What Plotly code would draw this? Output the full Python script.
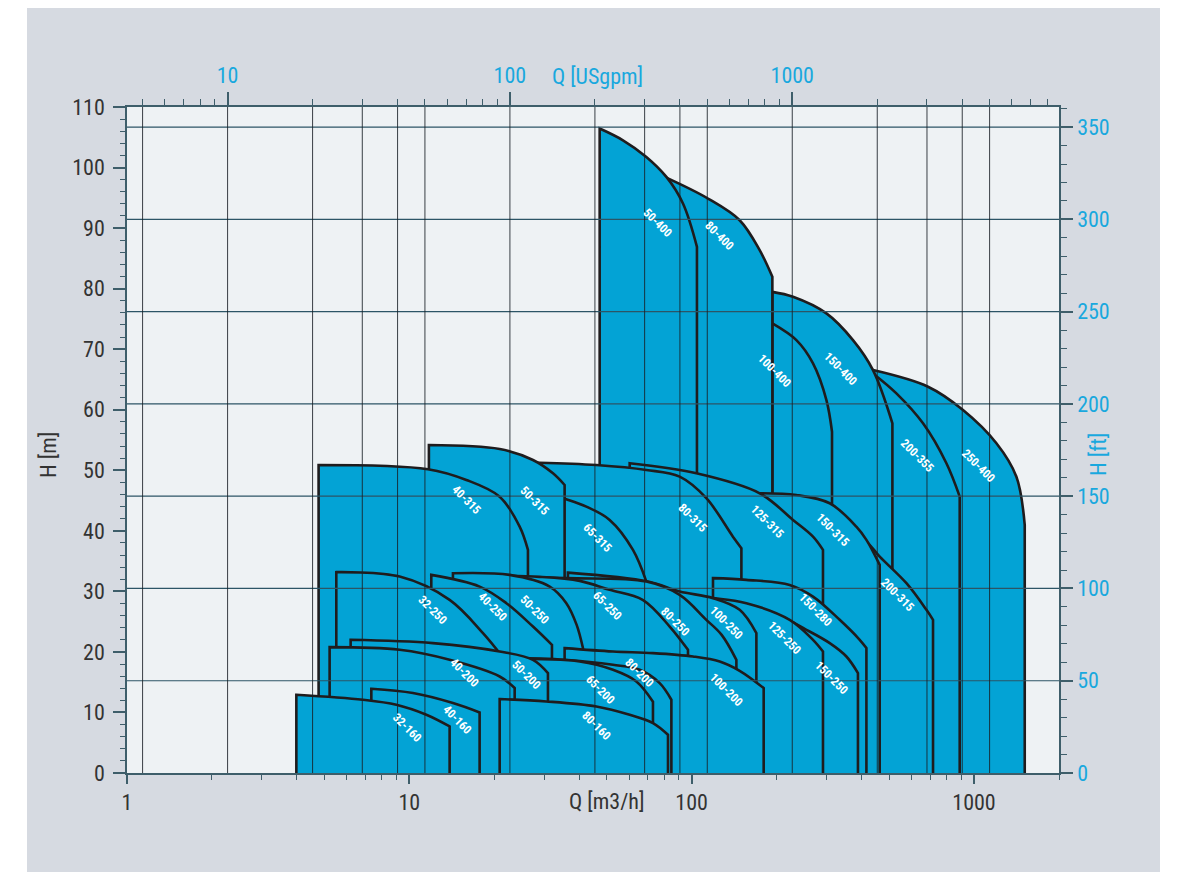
import numpy as np
import plotly.graph_objects as go

GPM_PER_M3H = 4.402868
M_PER_FT = 0.3048

# ---------------- pump envelopes: (Q [m3/h], H [m]) along each top curve ----------------
Q_250_400 = [438.7, 687.3, 914.2, 1200.6, 1413.0, 1512.5]
H_250_400 = [66.55, 63.8, 59.95, 54.46, 48.94, 40.97]
Q_200_355 = [438.7, 531.0, 659.8, 798.4, 889.9]
H_200_355 = [66.0, 62.71, 57.76, 51.16, 45.64]
Q_150_400 = [193.1, 228.5, 300.1, 372.7, 438.7, 514.0]
H_150_400 = [79.47, 78.65, 75.91, 71.50, 66.55, 57.76]
Q_100_400 = [193.1, 234.9, 269.0, 300.1, 314.1]
H_100_400 = [74.26, 71.50, 67.66, 61.60, 56.37]
Q_80_400 = [80.25, 114.2, 147.9, 174.1, 193.1]
H_80_400 = [98.45, 94.88, 91.30, 86.35, 81.95]
Q_50_400 = [47.22, 57.10, 69.10, 81.37, 93.15, 104.4]
H_50_400 = [106.44, 104.5, 101.75, 98.45, 94.06, 86.9]

Q_200_315 = [284.0, 410.1, 463.4, 576.3, 678.4, 715.9]
H_200_315 = [43.12, 38.5, 35.74, 31.35, 26.95, 25.30]
Q_150_315 = [174.1, 234.9, 308.3, 383.1, 415.8, 463.4]
H_150_315 = [46.2, 45.92, 44.55, 40.69, 38.5, 34.37]
Q_125_315 = [60.31, 103.9, 174.1, 228.5, 269.0, 291.8]
H_125_315 = [51.16, 49.50, 46.20, 41.80, 39.04, 36.85]
Q_80_315 = [22.66, 28.94, 45.96, 69.10, 90.67, 112.7, 140.0, 150.0]
H_80_315 = [51.29, 51.25, 50.87, 50.05, 48.94, 45.38, 39.04, 37.13]
Q_65_315 = [27.80, 35.98, 42.36, 51.23, 61.95, 69.10]
H_65_315 = [46.75, 45.21, 43.99, 41.80, 36.85, 31.62]
Q_50_315 = [11.73, 20.89, 27.41, 32.27, 35.48]
H_50_315 = [54.17, 53.51, 51.70, 49.50, 47.57]
Q_40_315 = [4.771, 11.64, 15.92, 20.89, 24.59, 26.31]
H_40_315 = [50.87, 50.17, 48.40, 45.64, 40.69, 36.85]

Q_150_280 = [119.0, 156.2, 222.4, 269.0, 334.4, 393.7, 415.8]
H_150_280 = [32.18, 31.90, 31.07, 29.14, 25.30, 22.0, 20.63]

Q_150_250 = [130.9, 205.0, 254.9, 308.3, 353.2, 388.1]
H_150_250 = [27.61, 25.84, 23.65, 21.45, 19.24, 16.50]
Q_125_250 = [70.99, 119.0, 156.2, 222.4, 269.0, 291.8]
H_125_250 = [29.59, 28.88, 28.05, 25.30, 22.0, 20.07]
Q_100_250 = [36.45, 70.01, 90.67, 119.0, 147.9, 169.5]
H_100_250 = [33.10, 31.62, 29.97, 28.88, 26.95, 23.10]
Q_80_250 = [16.35, 35.98, 69.10, 90.67, 112.7, 127.7, 144.0]
H_80_250 = [32.48, 32.18, 31.62, 29.42, 25.30, 22.82, 18.70]
Q_65_250 = [16.35, 28.94, 40.12, 51.23, 67.05, 83.58, 97.03]
H_65_250 = [32.64, 32.39, 31.73, 30.25, 28.60, 24.19, 20.35]
Q_50_250 = [14.27, 22.66, 31.41, 35.98, 39.14, 41.20]
H_50_250 = [33.0, 32.72, 30.79, 28.05, 24.47, 20.63]
Q_40_250 = [11.96, 17.74, 22.06, 27.41, 32.00]
H_40_250 = [32.72, 30.79, 28.05, 24.19, 21.17]
Q_32_250 = [5.512, 9.240, 13.89, 18.23, 21.23]
H_32_250 = [33.17, 32.44, 28.60, 23.10, 19.36]

Q_100_200 = [35.48, 52.63, 72.93, 101.1, 125.7, 147.9, 179.9]
H_100_200 = [20.63, 20.07, 19.80, 19.24, 18.42, 16.88, 14.03]
Q_80_200 = [21.76, 35.48, 52.63, 65.42, 77.04, 84.75]
H_80_200 = [19.03, 18.70, 17.87, 17.05, 14.85, 12.10]
Q_65_200 = [21.76, 40.12, 52.63, 63.68, 72.93]
H_65_200 = [18.86, 18.42, 17.05, 15.12, 11.77]
Q_50_200 = [6.196, 12.12, 20.89, 27.41, 30.97]
H_50_200 = [22.0, 21.45, 20.07, 18.70, 16.50]
Q_40_200 = [5.220, 9.240, 13.89, 20.89, 23.61]
H_40_200 = [20.79, 20.35, 18.70, 15.94, 14.03]

Q_80_160 = [20.89, 30.57, 45.96, 60.31, 72.93, 82.44]
H_80_160 = [12.21, 11.82, 10.99, 9.62, 8.25, 6.32]
Q_40_160 = [7.335, 10.30, 14.27, 17.74]
H_40_160 = [13.91, 13.20, 11.55, 10.00]
Q_32_160 = [3.979, 6.847, 8.994, 11.49, 13.89]
H_32_160 = [12.92, 12.10, 11.27, 9.62, 7.69]

# drawing order: back (first) to front (last)
pump_names = ["250-400", "200-355", "150-400", "100-400", "80-400", "50-400",
              "200-315", "150-315", "125-315", "80-315", "65-315", "50-315", "40-315",
              "150-280",
              "150-250", "125-250", "100-250", "80-250", "65-250", "50-250", "40-250", "32-250",
              "100-200", "80-200", "65-200", "50-200", "40-200",
              "80-160", "40-160", "32-160"]
pump_q = [Q_250_400, Q_200_355, Q_150_400, Q_100_400, Q_80_400, Q_50_400,
          Q_200_315, Q_150_315, Q_125_315, Q_80_315, Q_65_315, Q_50_315, Q_40_315,
          Q_150_280,
          Q_150_250, Q_125_250, Q_100_250, Q_80_250, Q_65_250, Q_50_250, Q_40_250, Q_32_250,
          Q_100_200, Q_80_200, Q_65_200, Q_50_200, Q_40_200,
          Q_80_160, Q_40_160, Q_32_160]
pump_h = [H_250_400, H_200_355, H_150_400, H_100_400, H_80_400, H_50_400,
          H_200_315, H_150_315, H_125_315, H_80_315, H_65_315, H_50_315, H_40_315,
          H_150_280,
          H_150_250, H_125_250, H_100_250, H_80_250, H_65_250, H_50_250, H_40_250, H_32_250,
          H_100_200, H_80_200, H_65_200, H_50_200, H_40_200,
          H_80_160, H_40_160, H_32_160]

# label anchor positions (Q [m3/h], H [m]), same order as pump_names
label_q = [1039, 631.8, 337.2, 196.8, 125.7, 75.8,
           536.7, 315.9, 185.9, 100.8, 46.45, 27.8, 15.96,
           275.0,
           313.3, 213.5, 133.0, 87.8, 50.4, 27.8, 19.73, 12.09,
           133.0, 65.4, 47.6, 26.0, 15.7,
           46.1, 14.83, 9.86]
label_h = [50.7, 52.4, 66.7, 66.4, 88.7, 90.8,
           29.4, 40.1, 41.5, 42.1, 38.8, 44.9, 45.1,
           26.9,
           15.7, 22.3, 24.8, 25.0, 27.6, 26.9, 27.4, 26.9,
           13.75, 16.55, 13.75, 16.2, 16.55,
           7.8, 8.8, 7.5]

# axes / ticks
q_range = [1, 2000]             # m3/h
h_range = [0, 110]              # m
q_major = [1, 10, 100, 1000]
q_minor = [2, 3, 4, 5, 6, 7, 8, 9, 20, 30, 40, 50, 60, 70, 80, 90,
           200, 300, 400, 500, 600, 700, 800, 900, 2000]
gpm_major = [10, 100, 1000]
gpm_minor = [5, 6, 7, 8, 9, 20, 30, 40, 50, 60, 70, 80, 90,
             200, 300, 400, 500, 600, 700, 800, 900, 2000, 3000, 4000, 5000, 6000, 7000, 8000]
gpm_grid = [5, 10, 20, 30, 40, 50, 100, 200, 300, 400, 500, 1000, 2000, 3000, 4000, 5000]
h_major = list(range(0, 111, 10))
h_minor = [v for v in range(0, 111, 2) if v % 10]
ft_major = list(range(0, 351, 50))
ft_minor = [v for v in range(0, 361, 10) if v % 50]
ft_grid = [50, 100, 150, 200, 250, 300, 350]

# ---------------- style ----------------
BLUE = "#03a3d5"
OUTLINE = "#1f1c1d"
PLOT_BG = "#eef2f4"
PANEL = "#d6dae1"
AXIS = "#3e5e6a"
GRID_V = "rgba(25,32,38,0.85)"
GRID_H = "#2c5566"
CYAN = "#19a8de"
DARK = "#333333"
FONT = "Liberation Sans Narrow, Arial Narrow, Roboto Condensed, DejaVu Sans Condensed, Liberation Sans, sans-serif"

# the page body has an 8px margin, so the figure is laid out 8px smaller and offset
OFF = 8
W, H = 1180 - OFF, 872 - OFF
L, T = 127 - OFF, 107 - OFF
PW, PH = 932, 666
R, B = W - L - PW, H - T - PH


def px_to_paper(px, py):
    """page pixel -> paper fraction"""
    return (px - OFF - L) / PW, (T + PH - (py - OFF)) / PH


fig = go.Figure()

for name, qs, hs in zip(pump_names, pump_q, pump_h):
    x = [qs[0], qs[0]] + list(qs) + [qs[-1], qs[-1]]
    y = [0.0, hs[0]] + list(hs) + [hs[-1], 0.0]
    fig.add_trace(go.Scatter(
        x=x, y=y, mode="lines", fill="toself", fillcolor=BLUE,
        line=dict(color=OUTLINE, width=2.6, shape="spline", smoothing=1.0, simplify=False),
        hoverinfo="skip", showlegend=False, name=name))

# grid lines (drawn above the envelopes), vertical on the USgpm axis, horizontal on the ft axis
vx, vy = [], []
for g in gpm_grid:
    vx += [g, g, None]
    vy += [h_range[0], h_range[1], None]
fig.add_trace(go.Scatter(x=vx, y=vy, xaxis="x2", yaxis="y", mode="lines",
                         line=dict(color=GRID_V, width=1), hoverinfo="skip", showlegend=False))
hx, hy = [], []
for f in ft_grid:
    hx += [q_range[0], q_range[1], None]
    hy += [f, f, None]
fig.add_trace(go.Scatter(x=hx, y=hy, xaxis="x", yaxis="y2", mode="lines",
                         line=dict(color=GRID_H, width=1.2), hoverinfo="skip", showlegend=False))

tickfont_dark = dict(family=FONT, size=22, color=DARK)
tickfont_cyan = dict(family=FONT, size=22, color=CYAN)

fig.update_layout(
    width=W, height=H,
    margin=dict(l=L, r=R, t=T, b=B, pad=0),
    paper_bgcolor=PANEL, plot_bgcolor=PLOT_BG,
    showlegend=False,
    xaxis=dict(type="log", range=[np.log10(q_range[0]), np.log10(q_range[1])], autorange=False,
               tickmode="array", tickvals=q_major, ticktext=[str(v) for v in q_major],
               ticks="outside", ticklen=9, tickwidth=1.5, tickcolor=AXIS,
               showline=True, linecolor=AXIS, linewidth=1.5, showgrid=False, zeroline=False,
               minor=dict(tickmode="array", tickvals=q_minor, ticks="outside", ticklen=5,
                          tickwidth=1.2, tickcolor=AXIS, showgrid=False),
               tickfont=tickfont_dark),
    xaxis2=dict(type="log", overlaying="x", side="top", anchor="y",
                range=[np.log10(q_range[0] * GPM_PER_M3H), np.log10(q_range[1] * GPM_PER_M3H)],
                autorange=False,
                tickmode="array", tickvals=gpm_major, ticktext=[str(v) for v in gpm_major],
                ticks="outside", ticklen=13, tickwidth=1.5, tickcolor=AXIS,
                showline=True, linecolor=AXIS, linewidth=1.5, showgrid=False, zeroline=False,
                minor=dict(tickmode="array", tickvals=gpm_minor, ticks="outside", ticklen=6,
                           tickwidth=1.2, tickcolor=AXIS, showgrid=False),
                tickfont=tickfont_cyan),
    yaxis=dict(range=h_range, autorange=False,
               tickmode="array", tickvals=h_major, ticks="outside", ticklen=12, tickwidth=1.5,
               tickcolor=AXIS, showline=True, linecolor=AXIS, linewidth=1.5,
               showgrid=False, zeroline=False,
               minor=dict(tickmode="array", tickvals=h_minor, ticks="outside", ticklen=5,
                          tickwidth=1.2, tickcolor=AXIS, showgrid=False),
               tickfont=tickfont_dark, ticklabelstandoff=4),
    yaxis2=dict(overlaying="y", side="right", anchor="x",
                range=[h_range[0] / M_PER_FT, h_range[1] / M_PER_FT], autorange=False,
                tickmode="array", tickvals=ft_major, ticks="outside", ticklen=12, tickwidth=1.5,
                tickcolor=AXIS, showline=True, linecolor=AXIS, linewidth=1.5,
                showgrid=False, zeroline=False,
                minor=dict(tickmode="array", tickvals=ft_minor, ticks="outside", ticklen=6,
                           tickwidth=1.2, tickcolor=AXIS, showgrid=False),
                tickfont=tickfont_cyan, ticklabelstandoff=0),
)

# white page margins around the grey panel (page pixels)
for (x0, y0, x1, y1) in [(0, 0, 27, 872), (1160, 0, 1190, 872)]:
    a0, b0 = px_to_paper(x0, y1)
    a1, b1 = px_to_paper(x1, y0)
    fig.add_shape(type="rect", xref="paper", yref="paper", x0=a0, y0=b0, x1=a1, y1=b1,
                  fillcolor="white", line=dict(width=0), layer="below")

# pump labels
for name, q, h in zip(pump_names, label_q, label_h):
    fig.add_annotation(x=np.log10(q), y=h, xref="x", yref="y", text="<b>" + name + "</b>",
                       showarrow=False, textangle=45,
                       font=dict(family=FONT, size=12, color="white"))

# axis titles (page pixel positions)
titles = [("H [m]", 48, 455, -90, DARK), ("H [ft]", 1098, 455, -90, CYAN),
          ("Q [m3/h]", 607, 801, 0, DARK), ("Q [USgpm]", 597, 76, 0, CYAN)]
for text, px, py, ang, col in titles:
    xp, yp = px_to_paper(px, py)
    fig.add_annotation(x=xp, y=yp, xref="paper", yref="paper", text=text, showarrow=False,
                       textangle=ang, xanchor="center", yanchor="middle",
                       font=dict(family=FONT, size=22, color=col))

fig.write_html("out.html")
